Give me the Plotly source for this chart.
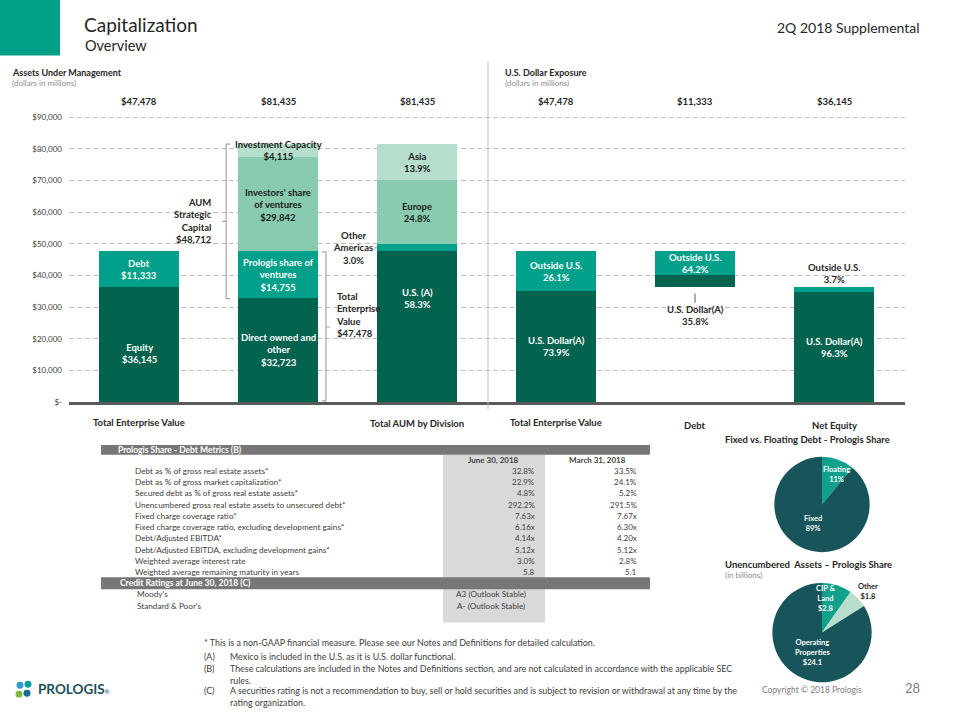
import plotly.graph_objects as go

# ---------------- data ----------------
aum_categories = ["Total Enterprise Value", "", "Total AUM by Division"]
usd_categories = ["Total Enterprise Value", "Debt", "Net Equity"]

tev_names = ["Equity", "Debt"]
tev_values = [36145, 11333]

aum_names = ["Direct owned and<br>other", "Prologis share of<br>ventures",
             "Investors' share<br>of ventures", "Investment Capacity"]
aum_values = [32723, 14755, 29842, 4115]

division_names = ["U.S. (A)", "Other<br>Americas", "Europe", "Asia"]
division_pct = [58.3, 3.0, 24.8, 13.9]
division_total = 81435

usd_names = ["U.S. Dollar(A)", "Outside U.S."]
usd_tev_pct = [73.9, 26.1]
usd_debt_pct = [35.8, 64.2]
usd_equity_pct = [96.3, 3.7]

y_tick_values = [0, 10000, 20000, 30000, 40000, 50000, 60000, 70000, 80000, 90000]
y_tick_labels = ["$-", "$10,000", "$20,000", "$30,000", "$40,000", "$50,000",
                 "$60,000", "$70,000", "$80,000", "$90,000"]

debt_type_labels = ["Floating", "Fixed"]
debt_type_pct = [11, 89]

unenc_labels = ["CIP &<br>Land", "Other", "Operating<br>Properties"]
unenc_values = [2.8, 1.8, 24.1]

metric_names = [
    "Debt as % of gross real estate assets*",
    "Debt as % of gross market capitalization*",
    "Secured debt as % of gross real estate assets*",
    "Unencumbered gross real estate assets to unsecured debt*",
    "Fixed charge coverage ratio*",
    "Fixed charge coverage ratio, excluding development gains*",
    "Debt/Adjusted EBITDA*",
    "Debt/Adjusted EBITDA, excluding development gains*",
    "Weighted average interest rate",
    "Weighted average remaining maturity in years",
]
metric_june = ["32.8%", "22.9%", "4.8%", "292.2%", "7.63x", "6.16x", "4.14x", "5.12x", "3.0%", "5.8"]
metric_march = ["33.5%", "24.1%", "5.2%", "291.5%", "7.67x", "6.30x", "4.20x", "5.12x", "2.8%", "5.1"]
period_labels = ["June 30, 2018", "March 31, 2018"]
rating_agencies = ["Moody's", "Standard & Poor's"]
rating_values = ["A3 (Outlook Stable)", "A- (Outlook Stable)"]

# ---------------- styles ----------------
FONT = "Lato"
DARK = "#02644F"
TEAL = "#00A08A"
LIGHT = "#88CBAF"
LIGHTER = "#B5DECD"
LAYER_COLORS = [DARK, TEAL, LIGHT, LIGHTER]
LAYER_TEXT = ["white", "white", "#1a1a1a", "#1a1a1a"]
PIE_DARK = "#17555A"
PIE_TEAL = "#10A08B"
PIE_LIGHT = "#B8DECD"
TXT = "#262626"
GRAY_TXT = "#8C8C8C"
BW = 0.576

W, H = 960, 720


def px(x):
    return x / W


def py(y):
    return 1 - y / H


def money(v):
    return "${:,.0f}".format(v)


fig = go.Figure()
annotations = []
shapes = []


def txt(x, y, text, size, color=TXT, xanchor="left", bold=False, align="left"):
    annotations.append(dict(x=px(x), y=py(y), xref="paper", yref="paper", xanchor=xanchor, yanchor="middle",
                            text=("<b>%s</b>" % text) if bold else text, showarrow=False, align=align,
                            font=dict(family=FONT, size=size, color=color)))


tev_total = sum(tev_values)
aum_total = sum(aum_values)

stacks = [
    dict(pos=0, base=0, names=tev_names, values=tev_values, labels=[money(v) for v in tev_values]),
    dict(pos=1, base=0, names=aum_names, values=aum_values, labels=[money(v) for v in aum_values]),
    dict(pos=2, base=0, names=division_names, values=[division_total * p / 100 for p in division_pct],
         labels=["{:.1f}%".format(p) for p in division_pct]),
    dict(pos=3, base=0, names=usd_names, values=[tev_total * p / 100 for p in usd_tev_pct],
         labels=["{:.1f}%".format(p) for p in usd_tev_pct]),
    dict(pos=4, base=tev_values[0], names=usd_names, values=[tev_values[1] * p / 100 for p in usd_debt_pct],
         labels=["{:.1f}%".format(p) for p in usd_debt_pct]),
    dict(pos=5, base=0, names=usd_names, values=[tev_values[0] * p / 100 for p in usd_equity_pct],
         labels=["{:.1f}%".format(p) for p in usd_equity_pct]),
]
# label placement style per (stack, segment): mode, yshift
label_style = {
    (0, 0): ("in", -9),
    (2, 0): ("in", 28),
    (2, 1): ("left", 0),
    (4, 0): ("below", 0),
    (5, 1): ("above", 0),
}

for s in stacks:
    base = s["base"]
    stack_top = s["base"] + sum(s["values"])
    for i, (nm, v, lb) in enumerate(zip(s["names"], s["values"], s["labels"])):
        fig.add_trace(go.Bar(x=[s["pos"]], y=[v], base=[base], width=BW,
                             marker=dict(color=LAYER_COLORS[i], line=dict(width=0)),
                             hoverinfo="skip", showlegend=False))
        mode, dy = label_style.get((s["pos"], i), ("in", 0))
        text = "<b>{}<br>{}</b>".format(nm, lb)
        if mode == "in":
            annotations.append(dict(x=s["pos"], y=base + v / 2, xref="x", yref="y", text=text,
                                    showarrow=False, yshift=dy,
                                    font=dict(family=FONT, size=9.5, color=LAYER_TEXT[i])))
        elif mode == "left":
            annotations.append(dict(x=s["pos"] - BW / 2, y=base + v / 2, xref="x", yref="y", text=text,
                                    showarrow=True, arrowhead=0, arrowwidth=1, arrowcolor="#7F7F7F",
                                    ax=-24, ay=0,
                                    font=dict(family=FONT, size=9.5, color=TXT)))
        elif mode == "below":
            annotations.append(dict(x=s["pos"], y=base, xref="x", yref="y", text=text,
                                    showarrow=True, arrowhead=0, arrowwidth=1, arrowcolor="#595959",
                                    ax=0, ay=28, standoff=6,
                                    font=dict(family=FONT, size=9.5, color=TXT)))
        elif mode == "above":
            annotations.append(dict(x=s["pos"], y=stack_top, xref="x", yref="y",
                                    text=text, showarrow=False, yanchor="bottom", yshift=1,
                                    font=dict(family=FONT, size=9.5, color=TXT)))
        base += v

# totals above bars
top_totals = [tev_total, aum_total, division_total, tev_total, tev_values[1], tev_values[0]]
for pos, t in enumerate(top_totals):
    annotations.append(dict(x=pos, y=94800, xref="x", yref="y", text="<b>{}</b>".format(money(t)),
                            showarrow=False, font=dict(family=FONT, size=9.5, color=TXT)))

# category labels below
cat_labels = aum_categories + usd_categories
cat_y = [425, 425, 426, 425, 428, 428]
for pos, (c, yy) in enumerate(zip(cat_labels, cat_y)):
    if c:
        annotations.append(dict(x=pos, y=py(yy), xref="x", yref="paper", text="<b>{}</b>".format(c),
                                showarrow=False, font=dict(family=FONT, size=9.5, color=TXT)))

# brackets
lb_x = 1 - BW / 2 - 0.085
lb_top, lb_bot = aum_total, aum_values[0]
lb_mid = (lb_top + lb_bot) / 2
t = 0.03
shapes.append(dict(type="path", xref="x", yref="y",
                   path="M {a},{b} L {c},{b} L {c},{d} L {a},{d} M {c},{m} L {e},{m}".format(
                       a=lb_x + t, b=lb_top, c=lb_x, d=lb_bot, m=lb_mid, e=lb_x - t),
                   line=dict(color="#A6A6A6", width=1.2)))
annotations.append(dict(x=lb_x - 0.09, y=lb_mid, xref="x", yref="y", xanchor="right",
                        text="<b>AUM<br>Strategic<br>Capital<br>{}</b>".format(money(sum(aum_values[1:]))),
                        showarrow=False, align="right", font=dict(family=FONT, size=9.5, color=TXT)))
rb_x = 1 + BW / 2 + 0.057
rb_top, rb_bot = sum(aum_values[:2]), 0
rb_mid = (rb_top + rb_bot) / 2
shapes.append(dict(type="path", xref="x", yref="y",
                   path="M {a},{b} L {c},{b} L {c},{d} L {a},{d} M {c},{m} L {e},{m}".format(
                       a=rb_x - t, b=rb_top, c=rb_x, d=rb_bot + 400, m=rb_mid, e=rb_x + t),
                   line=dict(color="#A6A6A6", width=1.2)))
annotations.append(dict(x=rb_x + 0.06, y=rb_mid, xref="x", yref="y", xanchor="left", yshift=12,
                        text="<b>Total<br>Enterprise<br>Value<br>{}</b>".format(money(sum(aum_values[:2]))),
                        showarrow=False, align="left", font=dict(family=FONT, size=9.5, color=TXT)))

# separator line & title square
shapes.append(dict(type="line", xref="paper", yref="paper", x0=px(488), x1=px(488), y0=py(62), y1=py(412),
                   line=dict(color="#BFBFBF", width=1)))
shapes.append(dict(type="rect", xref="paper", yref="paper", x0=0, x1=px(60), y0=py(56), y1=1,
                   fillcolor="#00A086", line=dict(width=0)))

# logo dots
for (cx, cy, col) in [(20, 690, "#2E9AD0"), (28, 689, "#00A19A"), (19, 699, "#7DBA3C"), (27, 698, "#1B6F8C")]:
    shapes.append(dict(type="circle", xref="paper", yref="paper", x0=px(cx - 3.5), x1=px(cx + 3.5),
                       y0=py(cy + 3.5), y1=py(cy - 3.5), fillcolor=col, line=dict(width=0)))

# header texts
txt(82, 25, "Capitalization", 19, "#262626")
txt(83, 46, "Overview", 14.5, "#262626")
txt(922, 28, "2Q 2018 Supplemental", 14, "#262626", xanchor="right")
txt(10, 73, "Assets Under Management", 9, bold=True)
txt(10, 84, "(dollars in millions)", 8, GRAY_TXT)
txt(503, 73, "U.S. Dollar Exposure", 9, bold=True)
txt(503, 84, "(dollars in millions)", 8, GRAY_TXT)
txt(723, 443, "Fixed vs. Floating Debt - Prologis Share", 9.5, bold=True)
txt(723, 568, "Unencumbered&nbsp; Assets – Prologis Share", 9.5, bold=True)
txt(723, 579, "(in billions)", 8, GRAY_TXT)

FN = "#404040"
FS = 8.9
txt(202, 647, "* This is a non-GAAP financial measure. Please see our Notes and Definitions for detailed calculation.", FS, FN)
txt(202, 661, "(A)", FS, FN)
txt(228, 661, "Mexico is included in the U.S. as it is U.S. dollar functional.", FS, FN)
txt(202, 673, "(B)", FS, FN)
txt(228, 673, "These calculations are included in the Notes and Definitions section, and are not calculated in accordance with the applicable SEC", FS, FN)
txt(228, 685, "rules.", FS, FN)
txt(202, 695, "(C)", FS, FN)
txt(228, 695, "A securities rating is not a recommendation to buy, sell or hold securities and is subject to revision or withdrawal at any time by the", FS, FN)
txt(228, 707, "rating organization.", FS, FN)
txt(760, 695, "Copyright © 2018 Prologis", 8.5, "#7F7F7F")
txt(922, 693, "28", 13, "#7F7F7F", xanchor="right")
txt(36, 694, "<b>PROLOGIS</b><span style='font-size:6px'>®</span>", 13.5, "#20505A")

# ---------------- pies ----------------
fig.add_trace(go.Pie(values=debt_type_pct, labels=debt_type_labels, textinfo="none",
                     sort=False, direction="clockwise", rotation=0,
                     marker=dict(colors=[PIE_TEAL, PIE_DARK], line=dict(width=0)),
                     domain=dict(x=[px(774), px(870)], y=[py(556), py(460)]),
                     hoverinfo="skip", showlegend=False))
fig.add_trace(go.Pie(values=unenc_values, labels=unenc_labels, textinfo="none",
                     sort=False, direction="clockwise", rotation=0,
                     marker=dict(colors=[PIE_TEAL, PIE_LIGHT, PIE_DARK], line=dict(width=0)),
                     domain=dict(x=[px(772), px(872)], y=[py(687), py(587)]),
                     hoverinfo="skip", showlegend=False))
pie1_label_pos = [(836, 478), (813, 527)]
for (lx, ly), l, v in zip(pie1_label_pos, debt_type_labels, debt_type_pct):
    txt(lx, ly, "<b>{}<br>{}%</b>".format(l, v), 7.5, "white", xanchor="center", align="center")
pie2_label_pos = [(825, 603), (868, 596), (812, 657)]
pie2_label_col = ["white", TXT, "white"]
for (lx, ly), l, v, c in zip(pie2_label_pos, unenc_labels, unenc_values, pie2_label_col):
    txt(lx, ly, "<b>{}<br>${}</b>".format(l, v), 7.5, c, xanchor="center", align="center")

# ---------------- table ----------------
HDR = "#777777"
COLG = "#D9D9D9"
TBL_TXT = "#404040"
T_X0, T_X1 = 101, 650
C1_X0, C1_X1 = 443, 545
ROW_H = 11.3
ROW0 = 463.0


def row_y(i):
    return ROW0 + ROW_H * i  # row 0 = period header


credit_i = 1 + len(metric_names)
n_rows = credit_i + 1 + len(rating_agencies) + 1

shapes.append(dict(type="rect", xref="paper", yref="paper", x0=px(C1_X0), x1=px(C1_X1),
                   y0=py(row_y(n_rows - 1) + ROW_H / 2), y1=py(458),
                   fillcolor=COLG, line=dict(width=0), layer="below"))
shapes.append(dict(type="rect", xref="paper", yref="paper", x0=px(T_X0), x1=px(T_X1),
                   y0=py(458), y1=py(448), fillcolor=HDR, line=dict(width=0)))
shapes.append(dict(type="rect", xref="paper", yref="paper", x0=px(T_X0), x1=px(T_X1),
                   y0=py(row_y(credit_i) + ROW_H / 2 + 0.3), y1=py(row_y(credit_i) - ROW_H / 2 - 0.3),
                   fillcolor=HDR, line=dict(width=0)))

txt(116, 453, "Prologis Share - Debt Metrics (B)", 8.5, "white", bold=True)
txt(493, row_y(0), period_labels[0], 8, TBL_TXT, xanchor="center", bold=True)
txt(597, row_y(0), period_labels[1], 8, TBL_TXT, xanchor="center", bold=True)
for i, (m, j, mr) in enumerate(zip(metric_names, metric_june, metric_march)):
    txt(133, row_y(i + 1), m, 8.2, TBL_TXT)
    txt(537, row_y(i + 1), j, 8, TBL_TXT, xanchor="right")
    txt(639, row_y(i + 1), mr, 8, TBL_TXT, xanchor="right")
txt(118, row_y(credit_i), "Credit Ratings at June 30, 2018 (C)", 8.5, "white", bold=True)
for k, (a, r) in enumerate(zip(rating_agencies, rating_values)):
    txt(135, row_y(credit_i + 1 + k), a, 8.2, TBL_TXT)
    txt(491, row_y(credit_i + 1 + k), r, 8.2, TBL_TXT, xanchor="center")

# ---------------- layout ----------------
x0p, x1p = 69, 905
ppu = 139.0
fig.update_layout(
    width=W, height=H, margin=dict(l=0, r=0, t=0, b=0),
    paper_bgcolor="white", plot_bgcolor="white",
    barmode="overlay", bargap=0,
    font=dict(family=FONT, color=TXT),
    xaxis=dict(domain=[px(x0p), px(x1p)], range=[(x0p - 139) / ppu, (x1p - 139) / ppu],
               showgrid=False, zeroline=False, showticklabels=False, ticks="",
               showline=True, linecolor="#595959", linewidth=3, fixedrange=True),
    yaxis=dict(domain=[py(405), py(100)], range=[0, (405 - 100) / 0.00319],
               tickvals=y_tick_values, ticktext=y_tick_labels, ticks="",
               tickfont=dict(family=FONT, size=8, color="#404040"), ticklabelstandoff=6,
               showgrid=True, gridcolor="#BFBFBF", griddash="5px,3px", gridwidth=1,
               zeroline=False, showline=False, fixedrange=True),
    annotations=annotations, shapes=shapes,
)

fig.write_html("out.html")
